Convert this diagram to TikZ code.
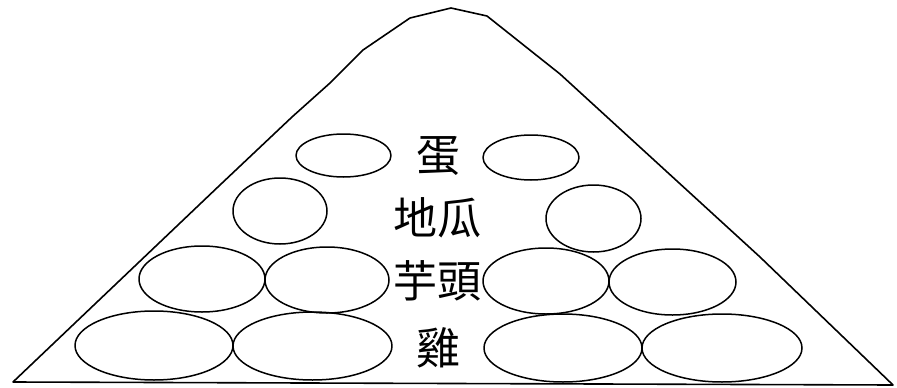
\documentclass[tikz,border=0pt]{standalone}
\usepackage{fontspec}
\newfontfamily\cjk{Noto Sans CJK TC}
\begin{document}
\begin{tikzpicture}[x=1pt,y=-1pt,line join=round,
  outline/.style={draw,line width=1.6pt},
  egg/.style={draw,line width=1.5pt},
  lbl/.style={font=\cjk\fontsize{44}{44}\selectfont,inner sep=0pt,anchor=center}]
\useasboundingbox (0,0) rectangle (897,388);
\draw[outline] (13,382) -- (220,185) -- (292,117) -- (330,83) -- (363,50)
  -- (410,18) -- (451,8) -- (487,16) -- (560,74) -- (760,257) -- (893,385) -- cycle;
% row 1
\draw[egg] (343.5,155.5) ellipse [x radius=47.5, y radius=21.5];
\draw[egg] (531,157.5) ellipse [x radius=48, y radius=22.5];
% row 2
\draw[egg] (280,211) ellipse [x radius=47, y radius=33];
\draw[egg] (593.5,218.5) ellipse [x radius=47.5, y radius=33.5];
% row 3
\draw[egg] (202,279) ellipse [x radius=63, y radius=33];
\draw[egg] (327,280) ellipse [x radius=62, y radius=33];
\draw[egg] (546,281) ellipse [x radius=63, y radius=33];
\draw[egg] (672.5,282) ellipse [x radius=63.5, y radius=33];
% row 4
\draw[egg] (154,345.5) ellipse [x radius=79, y radius=34.5];
\draw[egg] (312.5,346) ellipse [x radius=79.5, y radius=34];
\draw[egg] (563,348) ellipse [x radius=79, y radius=34];
\draw[egg] (722,348) ellipse [x radius=80, y radius=34];
% labels
\node[lbl] (dan) at (438,156) {蛋};
\node[lbl] (digua) at (437.5,218) {地瓜};
\node[lbl] (yutou) at (437,281) {芋頭};
\node[lbl] (ji) at (438,348) {雞};
\end{tikzpicture}
\end{document}
